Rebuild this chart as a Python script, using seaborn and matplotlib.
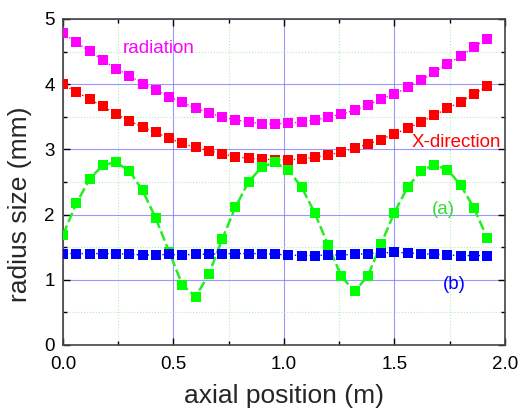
import matplotlib
matplotlib.use("Agg")
import matplotlib.pyplot as plt
from matplotlib.ticker import MultipleLocator
import seaborn as sns
import numpy as np

# axial positions (m), 0.06 m step
position = [0.00, 0.06, 0.12, 0.18, 0.24, 0.30, 0.36, 0.42, 0.48, 0.54, 0.60,
            0.66, 0.72, 0.78, 0.84, 0.90, 0.96, 1.02, 1.08, 1.14, 1.20, 1.26,
            1.32, 1.38, 1.44, 1.50, 1.56, 1.62, 1.68, 1.74, 1.80, 1.86, 1.92]

radiation = [4.78, 4.64, 4.51, 4.37, 4.24, 4.13, 4.01, 3.91, 3.81, 3.72, 3.63,
             3.56, 3.50, 3.45, 3.42, 3.39, 3.39, 3.40, 3.42, 3.45, 3.49, 3.54,
             3.60, 3.68, 3.77, 3.85, 3.95, 4.06, 4.18, 4.31, 4.43, 4.57, 4.70]

x_direction = [4.00, 3.88, 3.77, 3.66, 3.54, 3.44, 3.34, 3.26, 3.17, 3.09, 3.03,
               2.98, 2.93, 2.89, 2.86, 2.85, 2.84, 2.84, 2.85, 2.88, 2.91, 2.96,
               3.02, 3.08, 3.15, 3.24, 3.32, 3.42, 3.52, 3.63, 3.73, 3.85, 3.97]

case_a = [1.69, 2.17, 2.54, 2.76, 2.80, 2.67, 2.37, 1.94, 1.43, 0.92, 0.74,
          1.08, 1.62, 2.11, 2.50, 2.73, 2.80, 2.68, 2.42, 2.02, 1.53, 1.05,
          0.82, 1.06, 1.55, 2.03, 2.42, 2.67, 2.76, 2.69, 2.45, 2.10, 1.64]

case_b = [1.40, 1.40, 1.40, 1.40, 1.40, 1.39, 1.38, 1.38, 1.39, 1.38, 1.39,
          1.39, 1.40, 1.40, 1.40, 1.40, 1.39, 1.38, 1.37, 1.37, 1.38, 1.38,
          1.39, 1.40, 1.41, 1.42, 1.41, 1.40, 1.39, 1.38, 1.37, 1.37, 1.37]

sns.set_style("white")
plt.rcParams['font.family'] = ['Liberation Sans', 'DejaVu Sans']

fig = plt.figure(figsize=(5.21, 4.13), dpi=100)
ax = fig.add_axes([0.121, 0.165, 0.848, 0.789])

ms = 6.8
sns.lineplot(x=position, y=radiation, ax=ax, color='#ff00ff', marker='s',
             markersize=ms, markeredgewidth=0, linestyle=':', linewidth=1.0,
             zorder=3)
sns.lineplot(x=position, y=x_direction, ax=ax, color='#ff0000', marker='s',
             markersize=ms, markeredgewidth=0, linestyle=':', linewidth=1.0,
             zorder=3)
sns.lineplot(x=position, y=case_a, ax=ax, color='#22ee22', marker='s',
             markersize=ms, markerfacecolor='#00ff00', markeredgewidth=0,
             linestyle=(0, (4, 1.5)), linewidth=1.8, zorder=3)
sns.lineplot(x=position, y=case_b, ax=ax, color='#0000ff', marker='s',
             markersize=ms, markeredgewidth=0, linestyle=':', linewidth=1.0,
             zorder=3)

ax.set_xlim(0, 2.0)
ax.set_ylim(0, 5)
ax.xaxis.set_major_locator(MultipleLocator(0.5))
ax.xaxis.set_minor_locator(MultipleLocator(0.25))
ax.yaxis.set_major_locator(MultipleLocator(1))
ax.yaxis.set_minor_locator(MultipleLocator(0.5))
ax.set_xticks(np.arange(0, 2.01, 0.5))
ax.set_xticklabels(['0.0', '0.5', '1.0', '1.5', '2.0'])

ax.grid(which='major', color='#7f7fff', linestyle='-', linewidth=0.8, alpha=0.8)
ax.grid(which='minor', color='#b0f0b0', linestyle=':', linewidth=0.8)
ax.set_axisbelow(True)

ax.tick_params(which='both', direction='in', top=True, right=True,
               bottom=True, left=True, labelsize=13.5, colors='#000000')
ax.tick_params(axis='x', which='major', pad=8)
ax.tick_params(axis='y', which='major', pad=6)
ax.tick_params(which='major', length=5, width=1)
ax.tick_params(which='minor', length=3, width=1)
for s in ax.spines.values():
    s.set_color('#444444')
    s.set_linewidth(1.2)

ax.set_xlabel('axial position (m)', fontsize=19)
ax.set_ylabel('radius size (mm)', fontsize=19)
ax.xaxis.set_label_coords(0.5, -0.12)
ax.yaxis.set_label_coords(-0.07, 0.43)

ax.text(0.27, 4.54, 'radiation', color='#ff00ff', fontsize=13.5, va='center')
ax.text(1.58, 3.10, 'X-direction', color='#ff0000', fontsize=13.5, va='center')
ax.text(1.67, 2.07, '(a)', color='#33dd33', fontsize=13.5, va='center')
ax.text(1.72, 0.92, '(b)', color='#0000ff', fontsize=13.5, va='center')

fig.savefig('out.png', dpi=100)
